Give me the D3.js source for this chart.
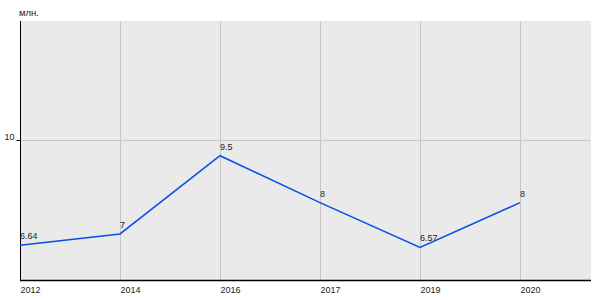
<!DOCTYPE html>
<html><head><meta charset="utf-8">
<script src="https://cdn.jsdelivr.net/npm/d3@7"></script>
<style>
body{margin:0;background:#fff;}
svg text{font-family:"Liberation Sans",Arial,sans-serif;}
</style></head>
<body>
<svg id="c" width="600" height="300"></svg>
<script>
const years = ["2012","2014","2016","2017","2019","2020"];
const values = [6.64, 7, 9.5, 8, 6.57, 8];
const valueLabels = ["6.64","7","9.5","8","6.57","8"];
const yTicks = [10];
const unitLabel = "млн.";

(function(){
const svg = d3.select("#c");
const pLeft = 20, pRight = 591, pTop = 21, pBottom = 280;

const x = d3.scalePoint().domain(years).range([pLeft, pLeft + 500]).padding(0);
const y = d3.scaleLinear().domain([5.53, 13.8]).range([pBottom, pTop]);

svg.append("rect").attr("x", pLeft).attr("y", pTop).attr("width", pRight - pLeft).attr("height", pBottom - pTop).attr("fill", "#eaeaea");

// vertical grid
svg.append("g").selectAll("line").data(years.slice(1)).join("line")
  .attr("x1", d => x(d) + 0.5).attr("x2", d => x(d) + 0.5)
  .attr("y1", pTop).attr("y2", pBottom)
  .attr("stroke", "#c6c6c6").attr("stroke-width", 1);

// horizontal grid
svg.append("g").selectAll("line").data(yTicks).join("line")
  .attr("x1", pLeft).attr("x2", pRight)
  .attr("y1", d => Math.round(y(d)) + 0.5).attr("y2", d => Math.round(y(d)) + 0.5)
  .attr("stroke", "#c6c6c6").attr("stroke-width", 1);

// y axis
const yAxis = d3.axisLeft(y).tickValues(yTicks).tickSize(4).tickFormat(d3.format("d"));
const gy = svg.append("g").attr("transform", `translate(${pLeft + 0.5},0)`).call(yAxis);
gy.select(".domain").attr("stroke", "#000").attr("d", `M0,${pTop}V${pBottom}`);
gy.selectAll(".tick line").attr("stroke", "#000");
gy.selectAll(".tick text").attr("font-size", 9).attr("fill", "#222").attr("x", -6).attr("dy", "-0.05em").attr("font-family", "Liberation Sans, Arial, sans-serif");

// x axis
const xAxis = d3.axisBottom(x).tickSize(0);
const gx = svg.append("g").attr("transform", `translate(0,${pBottom + 0.5})`).call(xAxis);
gx.select(".domain").attr("stroke", "#000").attr("stroke-width", 1.5).attr("d", `M${pLeft},0H${pRight}`);
gx.selectAll(".tick text").attr("font-size", 9).attr("fill", "#222").attr("text-anchor", "start").attr("y", 12).attr("dy", 0).attr("font-family", "Liberation Sans, Arial, sans-serif");

// unit label
svg.append("text").attr("x", 19).attr("y", 16).attr("font-size", 9.5).attr("fill", "#222").text(unitLabel);

// line
const line = d3.line().x((d, i) => x(years[i])).y(d => y(d));
svg.append("path").datum(values).attr("d", line)
  .attr("fill", "none").attr("stroke", "#0a4fe6").attr("stroke-width", 1.6);

// value labels
svg.append("g").selectAll("text").data(values).join("text")
  .attr("x", (d, i) => x(years[i])).attr("y", d => y(d) - 6)
  .attr("font-size", 9).attr("fill", "#222").text((d, i) => valueLabels[i]);
})();
</script>
</body></html>
